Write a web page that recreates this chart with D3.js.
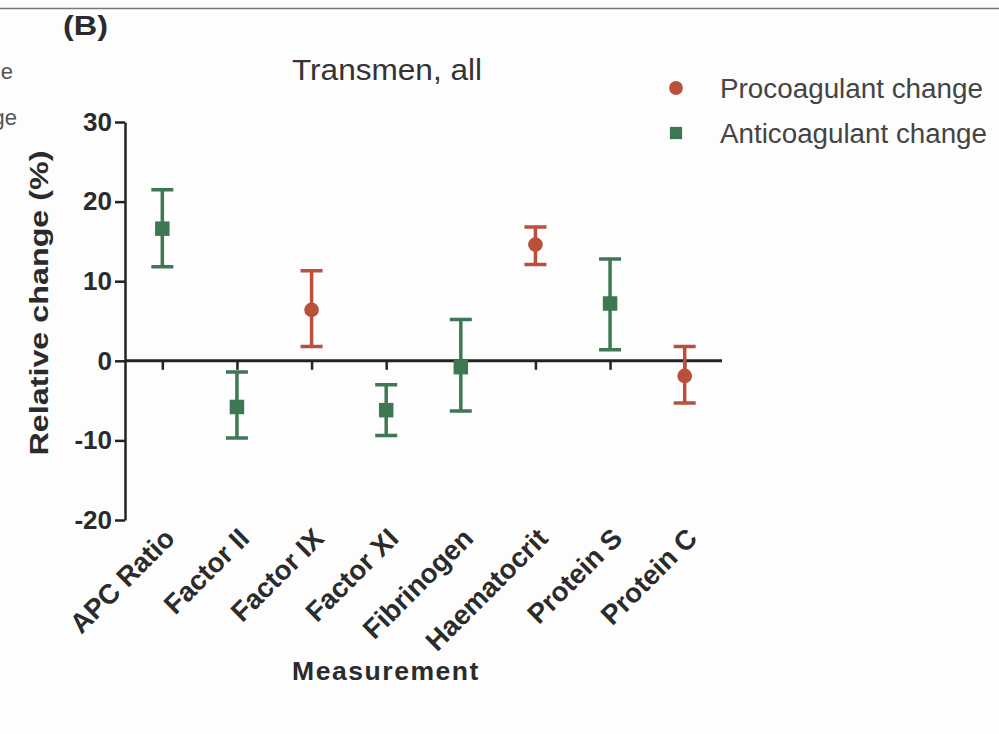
<!DOCTYPE html>
<html>
<head>
<meta charset="utf-8">
<script src="https://cdn.jsdelivr.net/npm/d3@7"></script>
<style>
body{margin:0;background:#fff;}
svg{display:block;}
text{font-family:"Liberation Sans",Arial,sans-serif;}
</style>
</head>
<body>
<svg id="chart" width="999" height="734"></svg>
<script>
const categories = ["APC Ratio","Factor II","Factor IX","Factor XI","Fibrinogen","Haematocrit","Protein S","Protein C"];
const means = [16.6,-5.8,6.4,-6.2,-0.8,14.6,7.2,-1.9];
const upper = [21.5,-1.4,11.3,-3.0,5.2,16.8,12.8,1.8];
const lower = [11.8,-9.7,1.8,-9.4,-6.3,12.1,1.4,-5.3];
const changeType = ["anti","anti","pro","anti","anti","pro","anti","pro"];
const yTicks = [-20,-10,0,10,20,30];
const seriesNames = {pro:"Procoagulant change", anti:"Anticoagulant change"};

const colors = {pro:"#b9503b", anti:"#3e7852"};
const svg = d3.select("#chart");
const textCol = "#2b2b2b";

// background and frame
svg.append("rect").attr("width",999).attr("height",734).attr("fill","#fdfdfd");
svg.append("line").attr("x1",0).attr("x2",999).attr("y1",8.5).attr("y2",8.5)
  .attr("stroke","#777").attr("stroke-width",1.5);

// cut-off fragments of the neighbouring panel's legend
svg.append("text").attr("x",13).attr("y",79).attr("text-anchor","end")
  .attr("font-size",22).attr("fill","#555").text("Procoagulant change");
svg.append("text").attr("x",17).attr("y",125).attr("text-anchor","end")
  .attr("font-size",22).attr("fill","#555").text("Anticoagulant change");

const x = d3.scalePoint().domain(categories).range([125,722]).padding(0.5);
const y = d3.scaleLinear().domain([-20,30]).range([520,122]);

// panel letter
svg.append("text").attr("x",63).attr("y",35).attr("font-size",27).attr("font-weight","bold")
  .attr("fill",textCol).attr("textLength",45).attr("lengthAdjust","spacingAndGlyphs").text("(B)");

// title
svg.append("text").attr("x",387).attr("y",80).attr("text-anchor","middle")
  .attr("font-size",30).attr("fill","#333").attr("textLength",190).attr("lengthAdjust","spacingAndGlyphs")
  .text("Transmen, all");

// y axis
const yAxis = d3.axisLeft(y).tickValues(yTicks).tickSize(10).tickPadding(3).tickSizeOuter(0)
  .tickFormat(d=>String(d));
const gy = svg.append("g").attr("transform","translate(125,0)").call(yAxis);
gy.select(".domain").attr("stroke","#222").attr("stroke-width",2.5);
gy.selectAll(".tick line").attr("stroke","#222").attr("stroke-width",2.5);
gy.selectAll(".tick text").attr("font-size",26).attr("font-weight","bold").attr("fill",textCol)
  .attr("font-family","'Liberation Sans',Arial,sans-serif");

// x axis at zero
const xAxis = d3.axisBottom(x).tickSize(9).tickSizeOuter(0).tickFormat("");
const gx = svg.append("g").attr("transform",`translate(0,${y(0)})`).call(xAxis);
gx.select(".domain").attr("d",`M125,0H722`).attr("stroke","#222").attr("stroke-width",3);
gx.selectAll(".tick line").attr("stroke","#222").attr("stroke-width",2.5);

// category labels
svg.append("g").selectAll("text").data(categories).join("text")
  .attr("transform",d=>`translate(${x(d)},${526}) rotate(-45)`)
  .attr("text-anchor","end").attr("dy","0.72em")
  .attr("font-size",27.5).attr("font-weight","bold").attr("fill",textCol)
  .text(d=>d);

// axis titles
svg.append("text").attr("transform","translate(48,303) rotate(-90)")
  .attr("text-anchor","middle").attr("font-size",26).attr("font-weight","bold")
  .attr("textLength",305).attr("lengthAdjust","spacingAndGlyphs")
  .attr("fill",textCol).text("Relative change (%)");
svg.append("text").attr("x",386).attr("y",680).attr("text-anchor","middle")
  .attr("font-size",26).attr("font-weight","bold").attr("letter-spacing",1.5)
  .attr("textLength",188).attr("lengthAdjust","spacingAndGlyphs")
  .attr("fill",textCol).text("Measurement");

// error bars
const data = categories.map((c,i)=>({c, m:means[i], hi:upper[i], lo:lower[i], t:changeType[i]}));
const g = svg.append("g");
const cap = 11;
g.selectAll(".eb").data(data).join("path")
  .attr("d",d=>{const cx=x(d.c);return `M${cx},${y(d.hi)}V${y(d.lo)}M${cx-cap},${y(d.hi)}H${cx+cap}M${cx-cap},${y(d.lo)}H${cx+cap}`;})
  .attr("stroke",d=>colors[d.t]).attr("stroke-width",3.5).attr("fill","none");
g.selectAll(".mk").data(data).join("path")
  .attr("transform",d=>`translate(${x(d.c)},${y(d.m)})`)
  .attr("d",d=>d.t==="pro"? d3.symbol(d3.symbolCircle,170)() : d3.symbol(d3.symbolSquare,210)())
  .attr("fill",d=>colors[d.t]);

// legend
const leg = svg.append("g");
const legItems = [["pro",88,263],["anti",133,267]];
leg.selectAll("path").data(legItems).join("path")
  .attr("transform",d=>`translate(676,${d[1]})`)
  .attr("d",d=>d[0]==="pro"? d3.symbol(d3.symbolCircle,150)() : d3.symbol(d3.symbolSquare,150)())
  .attr("fill",d=>colors[d[0]]);
leg.selectAll("text").data(legItems).join("text")
  .attr("x",720).attr("y",d=>d[1]).attr("dy","0.36em")
  .attr("font-size",27).attr("fill","#444")
  .attr("textLength",d=>d[2]).attr("lengthAdjust","spacingAndGlyphs")
  .text(d=>seriesNames[d[0]]);
</script>
</body>
</html>
